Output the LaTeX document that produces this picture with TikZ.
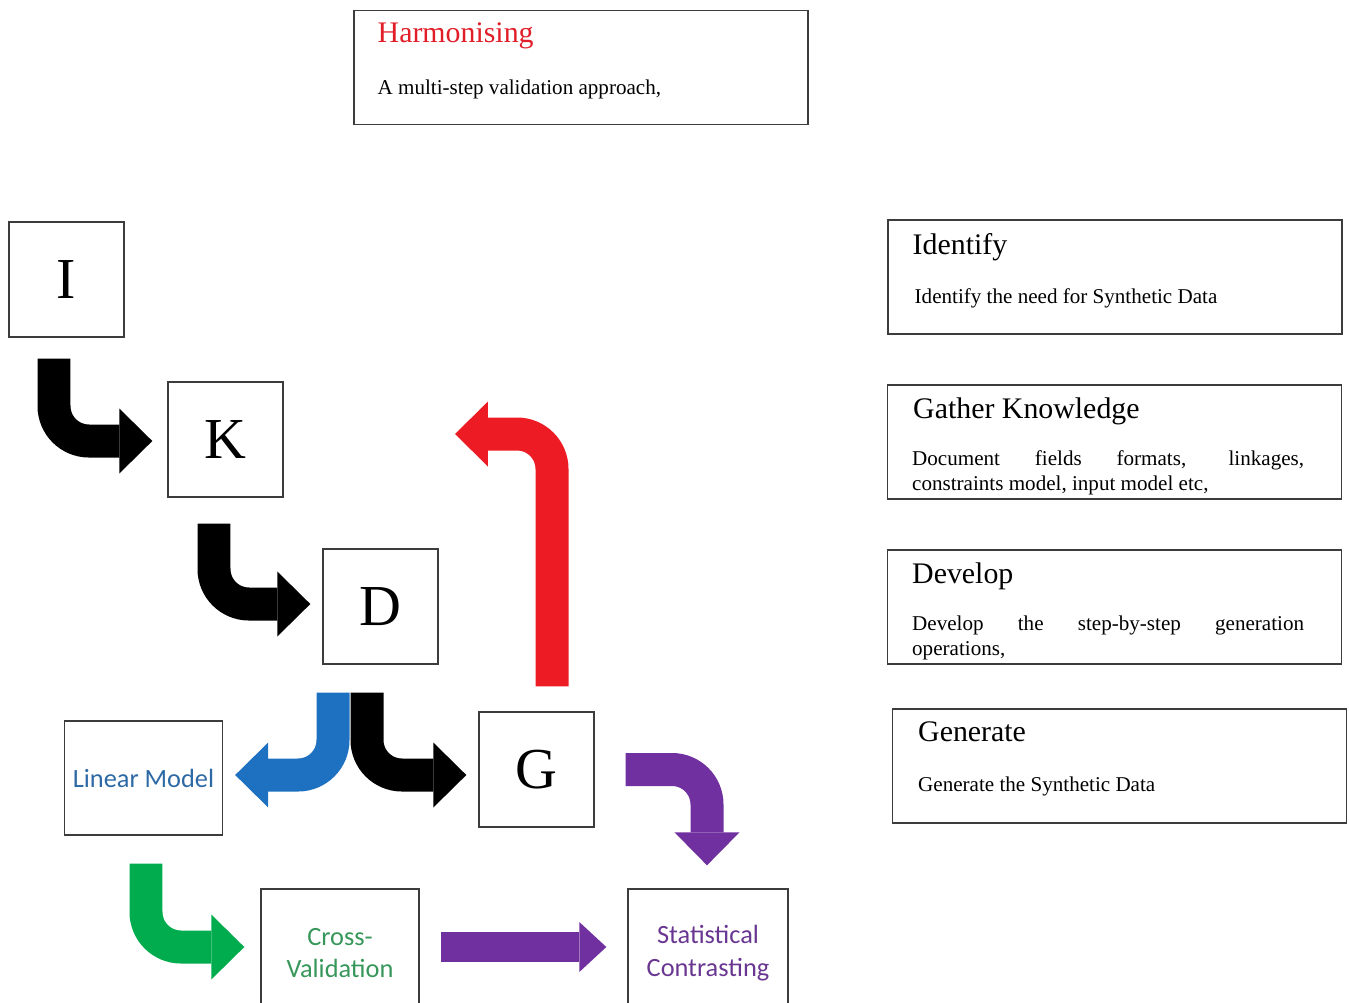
\documentclass[tikz,border=0pt]{standalone}
\usepackage{fontspec}
\setmainfont{Liberation Serif}
\newfontfamily\calibri{Carlito}
\usetikzlibrary{arrows.meta,positioning}

\definecolor{boxgray}{RGB}{60,60,60}
\definecolor{titlered}{RGB}{225,30,40}
\definecolor{arrowred}{RGB}{237,28,36}
\definecolor{arrowblue}{RGB}{30,112,192}
\definecolor{arrowpurple}{RGB}{112,48,160}
\definecolor{arrowgreen}{RGB}{0,172,78}
\definecolor{textblue}{RGB}{45,105,165}
\definecolor{textgreen}{RGB}{55,150,90}
\definecolor{textpurple}{RGB}{105,55,145}

\begin{document}
\begin{tikzpicture}[x=0.02cm,y=-0.02cm,
  letterbox/.style={draw=boxgray,line width=0.8pt,minimum width=2.3cm,minimum height=2.3cm,inner sep=0pt,font=\fontsize{33}{36}\selectfont},
  modelbox/.style={draw=boxgray,line width=0.8pt,minimum width=3.16cm,minimum height=2.28cm,inner sep=0pt,align=center,font=\calibri\fontsize{15}{18.7}\selectfont},
  panel/.style={draw=boxgray,line width=0.8pt,minimum width=9.08cm,minimum height=2.28cm,inner sep=0pt},
  paneltitle/.style={anchor=base west,inner sep=0pt,font=\fontsize{17}{20}\selectfont},
  paneltext/.style={anchor=base west,inner sep=0pt,font=\fontsize{12}{14.2}\selectfont},
  fatarrow/.style={draw=black,line width=0.66cm,rounded corners=0.7cm,-{Triangle[length=0.66cm,width=1.3cm,line width=0pt]}},
  thinarrow/.style={line width=0.6cm,-{Triangle[length=0.54cm,width=1.0cm,line width=0pt]}}]
\useasboundingbox (0,0) rectangle (1349,1002);
% heading panel
\node[panel] (harm) at (581,67.5) {};
\node[paneltitle,text=titlered] (harmT) at ([shift={(24,33)}]harm.north west) {Harmonising};
\node[paneltext] (harmB) at ([shift={(0,52)}]harmT.base west) {A multi-step validation approach,};
% step panels
\node[panel] (ident) at (1115,277) {};
\node[paneltitle] (identT) at ([shift={(25,35)}]ident.north west) {Identify};
\node[paneltext] (identB) at ([shift={(2,49)}]identT.base west) {Identify the need for Synthetic Data};
\node[panel] (gather) at (1114.5,442) {};
\node[paneltitle] (gatherT) at ([shift={(26,34)}]gather.north west) {Gather Knowledge};
\node[paneltext,text width=7.84cm,align=justify] (gatherB) at ([shift={(-1,47)}]gatherT.base west) {Document fields formats, linkages,\linebreak constraints model, input model etc,};
\node[panel] (devel) at (1114.5,607) {};
\node[paneltitle] (develT) at ([shift={(25,34)}]devel.north west) {Develop};
\node[paneltext,text width=7.84cm,align=justify] (develB) at ([shift={(0,47)}]develT.base west) {Develop the step-by-step generation\linebreak operations,};
\node[panel] (gener) at (1119.5,766) {};
\node[paneltitle] (generT) at ([shift={(26,33)}]gener.north west) {Generate};
\node[paneltext] (generB) at ([shift={(0,50)}]generT.base west) {Generate the Synthetic Data};
% letter boxes
\node[letterbox] (I) at (66.5,279.5) {I};
\node[letterbox] (K) at (225.5,439.5) {K};
\node[letterbox] (D) at (380.5,606.5) {D};
\node[letterbox] (G) at (536.5,769.5) {G};
% validation boxes
\node[modelbox,text=textblue] (linear) at (143.5,778) {Linear Model};
\node[modelbox,text=textgreen,minimum height=2.56cm] (cross) at (340,953) {Cross-\\Validation};
\node[modelbox,text=textpurple,minimum width=3.2cm,minimum height=2.56cm] (stat) at (708,953) {Statistical\\Contrasting};
% arrows
\draw[fatarrow] ([shift={(-12.5,21)}]I.south) |- ([shift={(-15,1.5)}]K.west);
\draw[fatarrow] ([shift={(-11.5,26)}]K.south) |- ([shift={(-12,-2.5)}]D.west);
\draw[fatarrow] ([shift={(-13.5,28)}]D.south) |- ([shift={(-12,5.5)}]G.west);
\draw[fatarrow,draw=arrowblue] ([shift={(-47.5,28)}]D.south) |- ([shift={(12,-3)}]linear.east);
\coordinate (loopback) at (455,434);
\draw[fatarrow,draw=arrowred] ([shift={(15.5,-25)}]G.north) |- (loopback);
\draw[fatarrow,draw=arrowpurple] ([shift={(31,0)}]G.east) -| ([shift={(-1,-23)}]stat.north);
\draw[fatarrow,draw=arrowgreen] ([shift={(2.5,28)}]linear.south) |- ([shift={(-16,-6)}]cross.west);
\draw[thinarrow,draw=arrowpurple] ([shift={(21,-6)}]cross.east) -- ([shift={(-21,-6)}]stat.west);
\end{tikzpicture}
\end{document}
